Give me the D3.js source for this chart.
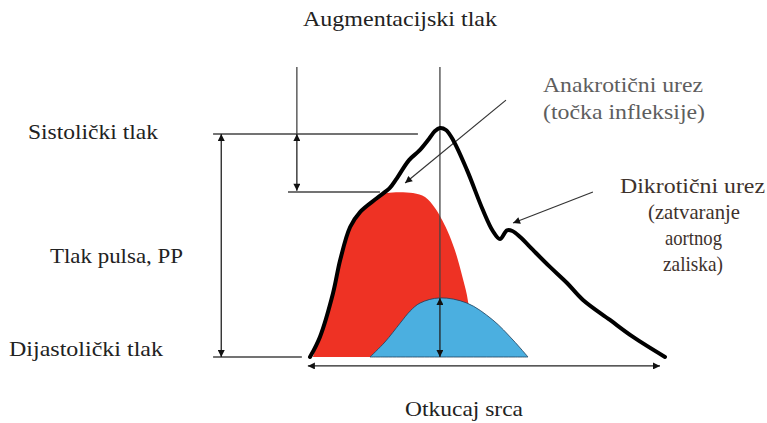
<!DOCTYPE html>
<html>
<head>
<meta charset="utf-8">
<script src="https://cdn.jsdelivr.net/npm/d3@7"></script>
<style>
  body { margin: 0; background: #fff; }
</style>
</head>
<body>
<svg id="chart"></svg>
<script>
// time in % of one heart beat, pressure in % of pulse pressure (0 = diastolic, 100 = systolic)
const pressureWave = [
  [0, 0], [2.8, 9], [6.5, 28.7], [8.5, 43.5], [11.3, 58.3], [14.1, 65],
  [18.9, 71.3], [22.5, 75.8], [24.2, 79.5], [27.9, 88.3], [30.7, 92.4],
  [33.5, 97.8], [35.2, 101.3], [36.6, 102.7], [38.3, 101.8], [40.3, 97.3],
  [44.2, 83.9], [48.7, 65.9], [51.5, 56.5], [53.5, 52.9], [55.5, 56.8],
  [57, 56.5], [59.2, 53.8], [62.8, 48], [67.6, 40.4], [72.4, 33.2],
  [76.9, 25.6], [84.5, 16.6], [91, 9], [100, 0]
];
const forwardWave = [
  [0.8, 0], [2.8, 9], [6.5, 28.7], [8.5, 43.5], [11.3, 58.3], [14.1, 65],
  [18.9, 71.7], [21.7, 73.5], [29, 73.5], [32.4, 71.7], [35.2, 66.8],
  [38.6, 57], [40.8, 48], [42.8, 36.8], [44.2, 27.8], [45.1, 18.8],
  [45.9, 9.9], [46.5, 0]
];
const reflectedWave = [
  [16.9, 0], [21.1, 6.7], [25.4, 15.2], [28.2, 20.6], [31, 24.2],
  [36.6, 26.5], [44.2, 24.2], [51.5, 16.6], [57.2, 7.6], [61.4, 0]
];

// reference lines [t1, p1, t2, p2]
const guideLines = [
  [-27.3, 100, 30.4, 100],   // systolic level
  [-27.3, 0, -2.3, 0],       // diastolic level
  [-6.2, 74, 19.7, 74],      // inflection level
  [-3.7, 130, -3.7, 100],    // augmentation marker top
  [36.6, 130, 36.6, 26.5]    // peak marker
];
// double arrows [t1, p1, t2, p2]
const doubleArrows = [
  [-25, 100, -25, 0],        // pulse pressure
  [-3.7, 100, -3.7, 74.5],   // augmentation pressure
  [36.6, 26.5, 36.6, 0],     // reflected wave height
  [-0.6, -4, 98.6, -4]       // heart beat
];
// pointer arrows [fromT, fromP, toT, toP]
const pointers = [
  [55.2, 115.2, 26.8, 78],
  [79.7, 74, 57.2, 60.1]
];

const labels = [
  { text: "Augmentacijski tlak", x: 303, y: 26, w: 194, color: "#222" },
  { text: "Sistolički tlak", x: 28, y: 139, w: 130, color: "#222" },
  { text: "Tlak pulsa, PP", x: 50, y: 263, w: 133, color: "#222" },
  { text: "Dijastolički tlak", x: 9, y: 356, w: 154, color: "#222" },
  { text: "Anakrotični urez", x: 543, y: 92, w: 160, color: "#5e5e5e" },
  { text: "(točka infleksije)", x: 543, y: 119, w: 162, color: "#5e5e5e" },
  { text: "Dikrotični urez", x: 620, y: 193, w: 145, color: "#3e322c" },
  { text: "(zatvaranje", x: 648, y: 219, w: 92, color: "#3e322c" },
  { text: "aortnog", x: 665, y: 245, w: 57, color: "#3e322c" },
  { text: "zaliska)", x: 663, y: 271, w: 60, color: "#3e322c" },
  { text: "Otkucaj srca", x: 405, y: 416, w: 118, color: "#222" }
];

const width = 767, height = 423;
const svg = d3.select("#chart").attr("width", width).attr("height", height);

const xScale = d3.scaleLinear().domain([0, 100]).range([310, 665]);
const yScale = d3.scaleLinear().domain([0, 100]).range([357, 134]);

// arrow heads
const defs = svg.append("defs");
defs.append("marker")
  .attr("id", "head")
  .attr("viewBox", "0 0 10 10")
  .attr("refX", 10).attr("refY", 5)
  .attr("markerWidth", 9).attr("markerHeight", 7)
  .attr("markerUnits", "userSpaceOnUse")
  .attr("orient", "auto-start-reverse")
  .append("path").attr("d", "M0,0L10,5L0,10Z").attr("fill", "#111");

const line = d3.line()
  .x(d => xScale(d[0]))
  .y(d => yScale(d[1]))
  .curve(d3.curveCatmullRom.alpha(0.5));

const area = d3.area()
  .x(d => xScale(d[0]))
  .y0(yScale(0))
  .y1(d => yScale(d[1]))
  .curve(d3.curveCatmullRom.alpha(0.5));

svg.append("path").datum(forwardWave)
  .attr("d", area).attr("fill", "#ee3224");

svg.append("path").datum(reflectedWave)
  .attr("d", area).attr("fill", "#4bafe0")
  .attr("stroke", "#1d3f5a").attr("stroke-width", 0.8);

svg.selectAll(".guide")
  .data(guideLines)
  .join("line")
  .attr("class", "guide")
  .attr("x1", d => xScale(d[0])).attr("y1", d => yScale(d[1]))
  .attr("x2", d => xScale(d[2])).attr("y2", d => yScale(d[3]))
  .attr("stroke", "#444").attr("stroke-width", 1.3);

svg.selectAll(".darrow")
  .data(doubleArrows)
  .join("line")
  .attr("class", "darrow")
  .attr("x1", d => xScale(d[0])).attr("y1", d => yScale(d[1]))
  .attr("x2", d => xScale(d[2])).attr("y2", d => yScale(d[3]))
  .attr("stroke", "#222").attr("stroke-width", 1.3)
  .attr("marker-start", "url(#head)")
  .attr("marker-end", "url(#head)");

svg.selectAll(".pointer")
  .data(pointers)
  .join("line")
  .attr("class", "pointer")
  .attr("x1", d => xScale(d[0])).attr("y1", d => yScale(d[1]))
  .attr("x2", d => xScale(d[2])).attr("y2", d => yScale(d[3]))
  .attr("stroke", "#333").attr("stroke-width", 1.2)
  .attr("marker-end", "url(#head)");

svg.append("path").datum(pressureWave)
  .attr("d", line)
  .attr("fill", "none")
  .attr("stroke", "#000")
  .attr("stroke-width", 4)
  .attr("stroke-linejoin", "round")
  .attr("stroke-linecap", "round");

svg.selectAll(".label")
  .data(labels)
  .join("text")
  .attr("class", "label")
  .attr("x", d => d.x).attr("y", d => d.y)
  .attr("textLength", d => d.w)
  .attr("lengthAdjust", "spacingAndGlyphs")
  .attr("fill", d => d.color)
  .style("font-family", "'Liberation Serif', 'Times New Roman', Times, 'DejaVu Serif', serif")
  .style("font-size", "21px")
  .text(d => d.text);
</script>
</body>
</html>
